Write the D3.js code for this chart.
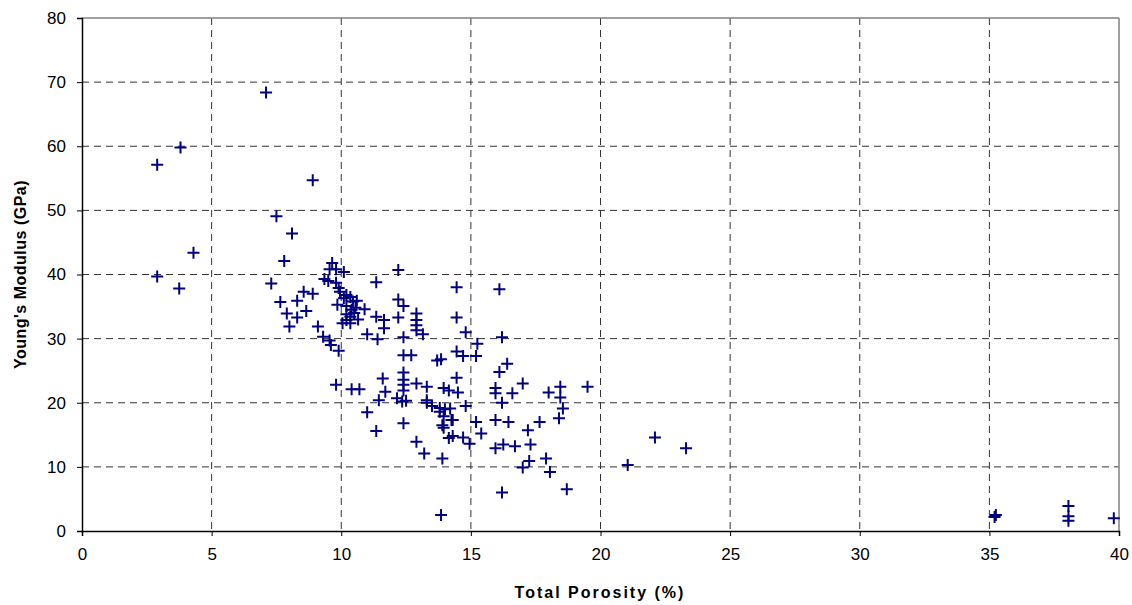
<!DOCTYPE html>
<html>
<head>
<meta charset="utf-8">
<script src="https://cdn.jsdelivr.net/npm/d3@7"></script>
<style>
  body { margin: 0; background: #fff; }
  svg text { font-family: "Liberation Sans", Arial, sans-serif; }
</style>
</head>
<body>
<svg id="chart" width="1132" height="605"></svg>
<script>
// porosity (%) and Young's modulus (GPa)
const porosity = [
  2.9, 3.8, 2.9, 3.75, 4.3,
  7.1, 8.9, 7.5, 8.1, 7.8, 7.3,
  7.65, 7.9, 8.3, 8.3, 8.55, 8.65, 8.9,
  8.0, 9.1, 9.3, 9.55, 9.6, 9.9, 9.8,
  9.35, 9.5, 9.55, 9.65, 9.8, 10.1, 9.8, 9.9, 9.95, 10.2, 10.35, 10.45, 10.6,
  9.85, 10.2, 10.4, 10.5, 10.35, 10.2, 10.05, 10.35, 10.9, 10.65, 11.35, 11.65,
  11.65, 11.0, 11.4, 11.35, 12.2, 12.2, 12.4, 12.2, 12.9, 12.9, 12.9, 12.9, 13.15, 12.4,
  10.1, 10.55, 10.2,
  12.4, 12.7, 11.6, 12.4, 12.4, 12.4, 12.4, 12.9, 10.4, 10.7, 11.7,
  14.45, 16.1, 14.45, 14.8, 16.2, 15.25, 14.45, 14.7, 15.2, 13.7, 13.85, 16.4, 16.1, 17.0,
  14.45, 13.3, 13.95, 14.15, 14.5, 15.95, 15.95, 16.6,
  11.45, 12.15, 12.35, 12.5, 13.3, 13.3, 13.5, 13.8, 14.0, 14.2, 14.8, 13.8, 13.95, 14.3, 13.9, 13.95,
  11.0, 11.35, 12.4, 12.9, 13.2, 13.9, 13.85,
  14.15, 14.3, 14.7, 14.95, 15.2, 15.4, 14.25,
  16.2, 15.95, 16.45, 17.65, 17.2, 15.95, 16.25, 16.7, 17.3, 18.0, 17.25, 17.0, 17.9, 18.05, 16.2,
  19.5, 18.45, 18.45, 18.55, 18.4, 18.7, 22.1, 21.05, 23.3,
  35.2, 35.25, 38.05, 38.05, 38.05, 39.8
];
const modulus = [
  57.1, 59.8, 39.7, 37.8, 43.4,
  68.4, 54.7, 49.1, 46.4, 42.1, 38.6,
  35.7, 33.9, 33.3, 35.9, 37.3, 34.3, 37.0,
  31.9, 31.9, 30.3, 29.7, 29.0, 28.1, 22.8,
  39.3, 39.0, 40.8, 41.8, 40.8, 40.4, 38.7, 37.9, 37.3, 36.8, 36.5, 35.8, 35.9,
  35.3, 35.1, 34.5, 34.0, 33.4, 32.9, 32.4, 32.4, 34.6, 33.0, 33.4, 32.9,
  31.6, 30.7, 29.9, 38.8, 40.7, 36.1, 35.1, 33.3, 33.9, 32.9, 32.1, 31.3, 30.7, 30.2,
  36.3, 34.8, 33.8,
  27.4, 27.4, 23.8, 24.7, 23.6, 22.8, 21.9, 23.0, 22.1, 22.1, 21.7,
  38.0, 37.7, 33.3, 31.0, 30.2, 29.2, 28.0, 27.3, 27.3, 26.6, 26.8, 26.1, 24.8, 23.0,
  23.9, 22.5, 22.3, 21.9, 21.6, 22.3, 21.5, 21.5,
  20.4, 20.7, 20.2, 20.3, 20.4, 20.0, 19.5, 19.2, 19.0, 19.1, 19.5, 18.6, 17.9, 17.3, 16.5, 16.1,
  18.5, 15.6, 16.8, 13.9, 12.1, 11.3, 2.5,
  14.5, 14.8, 14.6, 13.6, 17.0, 15.2, 17.3,
  20.0, 17.3, 17.0, 17.0, 15.7, 12.9, 13.5, 13.2, 13.5, 21.6, 10.9, 9.9, 11.3, 9.2, 6.0,
  22.5, 22.5, 20.8, 19.1, 17.6, 6.5, 14.6, 10.3, 12.9,
  2.2, 2.5, 3.9, 2.3, 1.6, 2.0
];
const xTicks = [0, 5, 10, 15, 20, 25, 30, 35, 40];
const yTicks = [0, 10, 20, 30, 40, 50, 60, 70, 80];

const points = porosity.map((p, i) => ({ x: p, y: modulus[i] }));

const svg = d3.select("#chart");
const margin = { top: 18, right: 13, bottom: 74, left: 82 };
const width = 1132 - margin.left - margin.right,
      height = 605 - margin.top - margin.bottom;

const x = d3.scaleLinear().domain([0, 40]).range([0, width]);
const y = d3.scaleLinear().domain([0, 80]).range([height, 0]);

const g = svg.append("g").attr("transform", "translate(" + margin.left + "," + margin.top + ")");

// dashed grid
g.selectAll(".vgrid")
  .data(xTicks.filter(d => d > 0 && d < 40))
  .enter().append("line")
  .attr("x1", d => x(d)).attr("x2", d => x(d))
  .attr("y1", 0).attr("y2", height)
  .attr("stroke", "#333").attr("stroke-width", 1)
  .attr("stroke-dasharray", "7,5");

g.selectAll(".hgrid")
  .data(yTicks.filter(d => d > 0 && d < 80))
  .enter().append("line")
  .attr("x1", 0).attr("x2", width)
  .attr("y1", d => y(d)).attr("y2", d => y(d))
  .attr("stroke", "#333").attr("stroke-width", 1)
  .attr("stroke-dasharray", "7,5");

// top and right frame
g.append("line").attr("x1", 0).attr("x2", width).attr("y1", 0).attr("y2", 0)
  .attr("stroke", "#808080").attr("stroke-width", 1.5);
g.append("line").attr("x1", width).attr("x2", width).attr("y1", 0).attr("y2", height)
  .attr("stroke", "#808080").attr("stroke-width", 1.5);

// axes
const xAxis = g.append("g")
  .attr("transform", "translate(0," + height + ")")
  .call(d3.axisBottom(x).tickValues(xTicks).tickSize(5).tickPadding(12));
const yAxis = g.append("g")
  .call(d3.axisLeft(y).tickValues(yTicks).tickSize(5).tickPadding(11));

[xAxis, yAxis].forEach(a => {
  a.select(".domain").attr("stroke", "#000").attr("stroke-width", 1.5);
  a.selectAll(".tick line").attr("stroke", "#000");
  a.selectAll(".tick text")
    .attr("fill", "#000")
    .style("font-size", "17px")
    .style("font-family", "'Liberation Sans', Arial, sans-serif");
});

// plus markers
const s = 6;
g.selectAll(".pt")
  .data(points)
  .enter().append("path")
  .attr("class", "pt")
  .attr("d", d => {
    const cx = x(d.x), cy = y(d.y);
    return "M" + (cx - s) + "," + cy + "H" + (cx + s) + "M" + cx + "," + (cy - s) + "V" + (cy + s);
  })
  .attr("stroke", "#000080")
  .attr("stroke-width", 2)
  .attr("fill", "none");

// axis titles
svg.append("text")
  .attr("x", 600)
  .attr("y", 598)
  .attr("text-anchor", "middle")
  .style("font-size", "16px")
  .style("font-weight", "bold")
  .style("letter-spacing", "2px")
  .text("Total Porosity (%)");

svg.append("text")
  .attr("transform", "translate(26," + (margin.top + height / 2) + ") rotate(-90)")
  .attr("text-anchor", "middle")
  .style("font-size", "16px")
  .style("font-weight", "bold")
  .style("letter-spacing", "0.5px")
  .text("Young's Modulus (GPa)");
</script>
</body>
</html>
